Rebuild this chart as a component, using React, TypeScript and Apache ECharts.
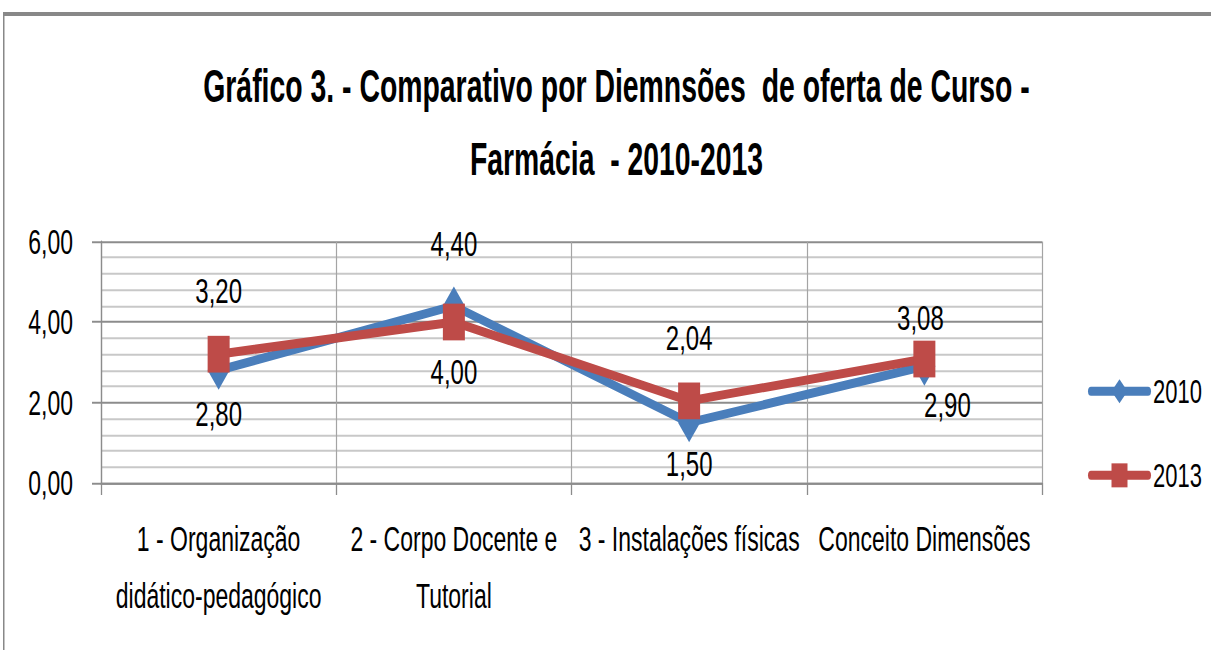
import React, { useEffect, useRef } from "react";
import * as echarts from "echarts";

const categories = [
  "1 - Organização\ndidático-pedagógico",
  "2 - Corpo Docente e\nTutorial",
  "3 - Instalações físicas",
  "Conceito Dimensões",
];
const seriesNames = ["2010", "2013"];
const values2010 = [2.8, 4.4, 1.5, 2.9];
const values2013 = [3.2, 4.0, 2.04, 3.08];
const yMin = 0;
const yMax = 6;
const yInterval = 2;
const titleLines = [
  "Gráfico 3. - Comparativo por Diemnsões  de oferta de Curso -",
  "Farmácia  - 2010-2013",
];

// label offsets relative to each marker (style only)
const labelOffsets2010 = [[0, 28.4], [0, -41.7], [0, 27.1], [23, 25]];
const labelOffsets2013 = [[0, -42.5], [0, 32.5], [0, -42.7], [-4, -27.7]];

const SY = 1.5; // vertical stretch of the whole picture
const W = 1211;
const H = 434;
const FONT = '"Liberation Sans", Arial, sans-serif';
const BLUE = "#4a7ebb";
const RED = "#be4b48";

function measure(text: string, font: string): number | null {
  const c = document.createElement("canvas").getContext("2d");
  if (!c) return null;
  c.font = font;
  return c.measureText(text).width;
}

const fmt = (p: any) => Number(p.value).toFixed(2).replace(".", ",");

export default function App() {
  const ref = useRef<HTMLDivElement>(null);
  useEffect(() => {
    if (!ref.current) return;
    const chart = echarts.init(ref.current, undefined, { renderer: "svg" });
    const titleFont = 'bold 31px "Liberation Sans", Arial, sans-serif';
    const titleTargets = [827, 293];
    const titleY = [57.3, 106];
    const titleEls = titleLines.map((t, i) => {
      const m = measure(t, titleFont);
      const sx = m ? titleTargets[i] / m : 0.82;
      return {
        type: "text",
        x: 616.5,
        y: titleY[i],
        scaleX: sx,
        style: {
          text: t,
          font: titleFont,
          fill: "#000",
          textAlign: "center",
          textVerticalAlign: "middle",
        },
      };
    });
    const labelBase = {
      show: true,
      position: "inside",
      formatter: fmt,
      fontSize: 24,
      color: "#000",
      fontFamily: FONT,
    };
    chart.setOption({
      animation: false,
      backgroundColor: "#fff",
      textStyle: { fontFamily: FONT },
      graphic: [
        { type: "rect", shape: { x: 3, y: 8, width: 1208, height: 2.7 }, style: { fill: "#888" } },
        { type: "rect", shape: { x: 3, y: 8, width: 1.5, height: 430 }, style: { fill: "#888" } },
        ...titleEls,
      ],
      legend: {
        data: seriesNames,
        orient: "vertical",
        left: 1083,
        top: 244.9,
        itemWidth: 57,
        itemHeight: 20,
        itemGap: 34,
        lineStyle: { width: 6, cap: "round" },
        textStyle: { fontSize: 22, color: "#000", lineHeight: 20, fontFamily: FONT },
      },
      grid: { left: 101, top: 161, width: 941, height: 161 },
      xAxis: {
        type: "category",
        data: categories,
        boundaryGap: true,
        axisLine: { show: true, lineStyle: { color: "#8c8c8c", width: 1.3 } },
        axisTick: { show: true, length: 8, alignWithLabel: false, interval: 0, lineStyle: { color: "#8c8c8c", width: 1.3 } },
        splitLine: { show: true, interval: 0, lineStyle: { color: "#a4a4a4", width: 1.2 } },
        axisLabel: { interval: 0, fontSize: 23, lineHeight: 38, margin: 18, color: "#000", fontFamily: FONT },
      },
      yAxis: {
        type: "value",
        min: yMin,
        max: yMax,
        interval: yInterval,
        axisLine: { show: true, lineStyle: { color: "#8c8c8c", width: 1.3 } },
        axisTick: { show: true, length: 9, lineStyle: { color: "#8c8c8c", width: 1.3 } },
        splitLine: { show: true, lineStyle: { color: "#8c8c8c", width: 1.3 } },
        minorTick: { show: false, splitNumber: 5 },
        minorSplitLine: { show: true, lineStyle: { color: "#c8c8c8", width: 1.3 } },
        axisLabel: {
          fontSize: 23,
          margin: 28,
          color: "#000",
          fontFamily: FONT,
          formatter: (v: number) => v.toFixed(2).replace(".", ","),
        },
      },
      series: [
        {
          name: seriesNames[0],
          type: "line",
          data: values2010.map((v, i) => ({ value: v, label: { offset: labelOffsets2010[i] } })),
          symbol: "diamond",
          symbolSize: [22, 26],
          lineStyle: { width: 6, color: BLUE, cap: "round", join: "round" },
          itemStyle: { color: BLUE },
          label: labelBase,
          emphasis: { disabled: true },
        },
        {
          name: seriesNames[1],
          type: "line",
          data: values2013.map((v, i) => ({ value: v, label: { offset: labelOffsets2013[i] } })),
          symbol: "rect",
          symbolSize: [22, 24.5],
          lineStyle: { width: 6, color: RED, cap: "round", join: "round" },
          itemStyle: { color: RED },
          label: labelBase,
          emphasis: { disabled: true },
        },
      ],
    });
    return () => chart.dispose();
  }, []);
  return (
    <div
      style={{
        position: "absolute",
        left: 0,
        top: 0,
        width: W,
        height: 650,
        overflow: "hidden",
        background: "#fff",
      }}
    >
      <div
        ref={ref}
        style={{
          width: W,
          height: H,
          transform: `scaleY(${SY})`,
          transformOrigin: "0 0",
        }}
      />
    </div>
  );
}
